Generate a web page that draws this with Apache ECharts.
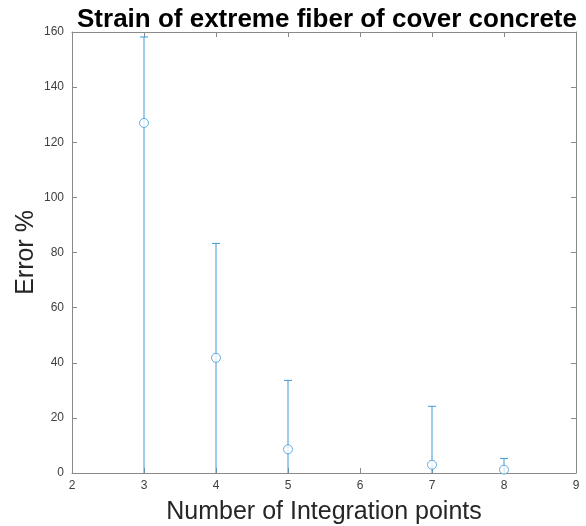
<!DOCTYPE html>
<html>
<head>
<meta charset="utf-8">
<script src="https://cdn.jsdelivr.net/npm/echarts@6/dist/echarts.min.js"></script>
<style>html,body{margin:0;padding:0;background:#fff}#c{width:586px;height:526px}</style>
</head>
<body>
<div id="c"></div>
<script>
var xPoints = [3, 4, 5, 7, 8];
var errorMean = [127, 41.8, 8.6, 3.0, 1.2];
var errorUpper = [158.2, 83.3, 33.6, 24.2, 5.3];
var errorLower = [0, 0, 0, 0, 0];
var xTicks = [2, 3, 4, 5, 6, 7, 8, 9];
var yTicks = [0, 20, 40, 60, 80, 100, 120, 140, 160];

var blue = '#3f98d8';
var axisColor = '#8a8a8a';
var textColor = '#404040';
var font = '"Liberation Sans", Arial, sans-serif';

var pts = xPoints.map(function (x, i) { return [x, errorMean[i]]; });
var bars = xPoints.map(function (x, i) { return [x, errorLower[i], errorUpper[i]]; });

var chart = echarts.init(document.getElementById('c'), null, {renderer: 'canvas'});
function axisCommon(showLabel) {
  return {
    axisLine: {show: true, onZero: false, lineStyle: {color: axisColor, width: 1}},
    axisTick: {show: true, inside: true, length: 5, lineStyle: {color: axisColor}},
    axisLabel: {show: showLabel, color: textColor, fontSize: 12, fontFamily: font},
    splitLine: {show: false}
  };
}
var xa = Object.assign({type: 'value', min: xTicks[0], max: xTicks[xTicks.length - 1], interval: 1, position: 'bottom',
  name: 'Number of Integration points', nameLocation: 'middle', nameGap: 27, nameMoveOverlap: false,
  nameTextStyle: {fontSize: 25, color: '#262626', fontFamily: font}}, axisCommon(true));
xa.axisLabel.margin = 7;
var xa2 = Object.assign({type: 'value', min: xTicks[0], max: xTicks[xTicks.length - 1], interval: 1, position: 'top'}, axisCommon(false));
var ya = Object.assign({type: 'value', min: yTicks[0], max: yTicks[yTicks.length - 1], interval: 20, position: 'left',
  name: 'Error %', nameLocation: 'middle', nameGap: 33, nameMoveOverlap: false,
  nameTextStyle: {fontSize: 25, color: '#262626', fontFamily: font}}, axisCommon(true));
ya.axisLabel.margin = 8;
var ya2 = Object.assign({type: 'value', min: yTicks[0], max: yTicks[yTicks.length - 1], interval: 20, position: 'right'}, axisCommon(false));

chart.setOption({
  animation: false,
  backgroundColor: '#fff',
  title: {
    text: 'Strain of extreme fiber of cover concrete',
    left: 322, top: 2, textAlign: 'center',
    textStyle: {fontSize: 26, fontWeight: 'bold', color: '#000', fontFamily: font}
  },
  grid: {left: 72, right: 10, top: 32, bottom: 53, containLabel: false, outerBoundsMode: 'none'},
  xAxis: [xa, xa2],
  yAxis: [ya, ya2],
  series: [
    {
      type: 'custom',
      xAxisIndex: 0, yAxisIndex: 0,
      clip: true,
      data: bars,
      renderItem: function (params, api) {
        var x = api.value(0);
        var lo = api.coord([x, api.value(1)]);
        var hi = api.coord([x, api.value(2)]);
        var cap = 4;
        return {
          type: 'group',
          children: [
            {type: 'line', shape: {x1: lo[0], y1: lo[1], x2: hi[0], y2: hi[1]}, style: {stroke: blue, lineWidth: 1}},
            {type: 'line', shape: {x1: hi[0] - cap, y1: hi[1], x2: hi[0] + cap, y2: hi[1]}, style: {stroke: blue, lineWidth: 1}}
          ]
        };
      },
      z: 2
    },
    {
      type: 'scatter',
      xAxisIndex: 0, yAxisIndex: 0,
      data: pts,
      symbol: 'circle',
      symbolSize: 9,
      itemStyle: {color: '#fff', borderColor: blue, borderWidth: 1},
      z: 3
    }
  ]
});
</script>
</body>
</html>
